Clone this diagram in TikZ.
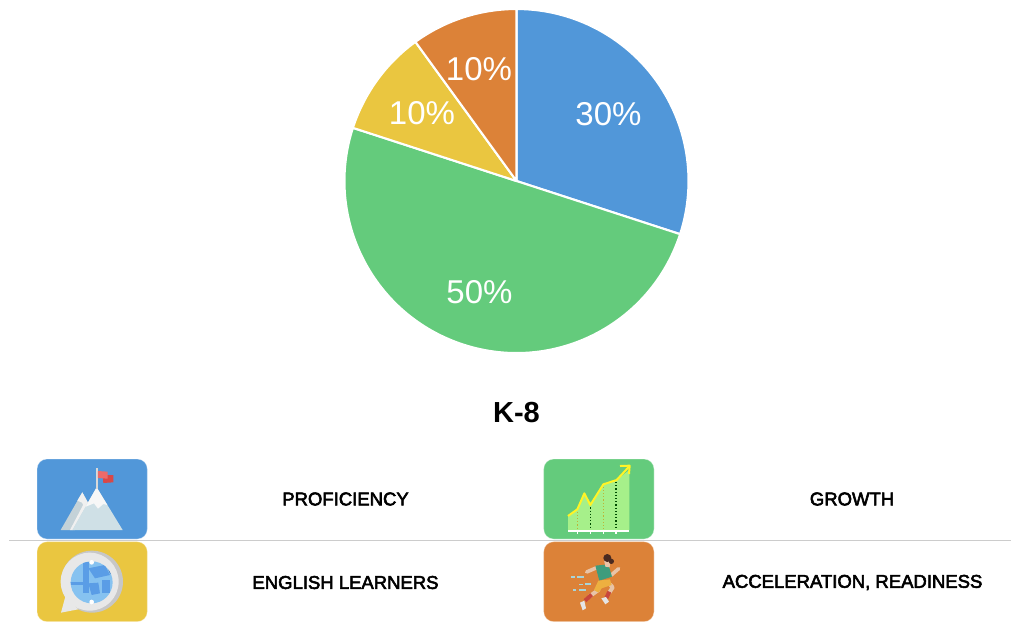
\documentclass[tikz,border=0pt]{standalone}
\usepackage{fontspec}
\setmainfont{Liberation Sans}
\newfontfamily\medfont[FakeBold=3]{Liberation Sans}
\definecolor{cblue}{HTML}{5197D9}
\definecolor{cgreen}{HTML}{64CB7C}
\definecolor{cyellow}{HTML}{EAC640}
\definecolor{corange}{HTML}{DC8238}
\definecolor{snow}{HTML}{CFE0E6}
\definecolor{lgreen}{HTML}{A6F08A}
\definecolor{gbase}{HTML}{86C2F0}
\definecolor{gdark}{HTML}{5A9DE6}
\definecolor{navyc}{HTML}{2F5FA8}
\definecolor{hairc}{HTML}{4A2A20}
\definecolor{skinc}{HTML}{E8C4A8}
\definecolor{shirtc}{HTML}{3E9C7C}
\definecolor{shortsc}{HTML}{EDB040}
\definecolor{sockc}{HTML}{C8463C}
\definecolor{speedc}{HTML}{A8D4D8}
\definecolor{flaga}{HTML}{EC6A6A}
\definecolor{flagb}{HTML}{D84848}
\definecolor{ridge}{HTML}{C4D2D8}
\tikzset{
  slice/.style={draw=white,line width=2.1pt,line join=round},
  pct/.style={text=white,font=\fontsize{33}{33}\selectfont,inner sep=0pt},
  lab/.style={text=black,font=\medfont\fontsize{18.5}{19}\selectfont,inner sep=0pt},
  iconbox/.style={draw=white,draw opacity=.35,line width=.8pt,rounded corners=10pt},
  zoomA/.style={shift={(20,450)},x=.3333pt,y=-.3333pt},
  zoomB/.style={shift={(530,450)},x=.3333pt,y=-.3333pt}
}
\begin{document}
\begin{tikzpicture}[x=1pt,y=-1pt]
\useasboundingbox (0,0) rectangle (1011,622);
\fill[white] (0,0) rectangle (1011,622);
% pie
\coordinate (c) at (516.5,181);
\def\R{172}
\filldraw[slice,fill=cblue] (516.5,9) arc[start angle=90,end angle=-18,radius=\R pt] -- (c) -- cycle;
\filldraw[slice,fill=cgreen] (c) -- ++(-18:\R pt) arc[start angle=-18,end angle=-198,radius=\R pt] -- cycle;
\filldraw[slice,fill=cyellow] (c) -- ++(162:\R pt) arc[start angle=162,end angle=126,radius=\R pt] -- cycle;
\filldraw[slice,fill=corange] (c) -- ++(126:\R pt) arc[start angle=126,end angle=90,radius=\R pt] -- cycle;
\node[pct] (p30) at (608.5,114) {30\%};
\node[pct] (p50) at (479.5,292) {50\%};
\node[pct] (p10a) at (422,113.5) {10\%};
\node[pct] (p10b) at (479,69) {10\%};
\node[inner sep=0pt,font=\bfseries\fontsize{29}{29}\selectfont] (title) at (516.5,412.5) {K-8};
% separator
\draw[black!20,line width=.9pt] (9,540) -- (1011,540);
% boxes
\filldraw[iconbox,fill=cblue] (37,459) rectangle (147.3,539);
\filldraw[iconbox,fill=cgreen] (543.7,459) rectangle (654,539);
\filldraw[iconbox,fill=cyellow] (37,541.7) rectangle (147.3,621.7);
\filldraw[iconbox,fill=corange] (543.7,541.7) rectangle (654,621.7);
% mountain icon
\begin{scope}[zoomA]
\fill[ridge] (122,240) -- (187,127) -- (205,160) -- (165,240) -- cycle;
\fill[white!94!black] (150,240) -- (192,160) -- (197,170) -- (158,240) -- cycle;
\fill[white!94!black] (172,152) -- (187,127) -- (205,160) -- (195,175) -- (186,158) -- cycle;
\fill[snow] (157,240) -- (230,112) -- (308,240) -- cycle;
\fill[white!97!black] (197,170) -- (230,112) -- (262,165) -- (250,162) -- (234,176) -- (222,160) -- (210,165) -- cycle;
\fill[white!85!black] (227,55) rectangle (233,118);
\fill[flagb] (248,75) -- (280,75) -- (280,97) -- (250,99) -- cycle;
\fill[flaga] (234,63) -- (263,65) -- (263,86) -- (234,84) -- cycle;
\end{scope}
% globe icon
\begin{scope}[zoomA]
\fill[black!22] (216,395) circle[radius=93];
\fill[white!91!black] (209,395) circle[radius=87];
\fill[white!91!black] (123,488) -- (136,440) -- (175,478) -- cycle;
\fill[gbase] (215,397) circle[radius=63];
\begin{scope}
\clip (215,397) circle[radius=63];
\fill[gdark] (150,395) rectangle (195,405);
\fill[gdark] (190,335) rectangle (206,430);
\fill[gdark] (205,355) -- (255,345) -- (270,375) -- (225,385) -- cycle;
\fill[gdark] (205,400) -- (235,398) -- (240,430) -- (215,435) -- cycle;
\fill[gdark] (245,390) rectangle (270,430);
\fill[navyc] (255,335) -- (285,345) -- (285,375) -- (270,370) -- cycle;
\end{scope}
\fill[white] (215,337) circle[radius=7];
\fill[white] (215,456) circle[radius=7];
\end{scope}
% growth icon
\begin{scope}[zoomB]
\fill[lgreen] (114,198) -- (142,178) -- (163,128) -- (181,165) -- (220,103) -- (260,90) -- (298,60) -- (298,240) -- (114,240) -- cycle;
\draw[yellow!85!white,line width=2pt,line join=round] (114,198) -- (142,178) -- (163,130) -- (181,165) -- (220,103) -- (260,90) -- (297,50);
\draw[yellow!85!white,line width=2pt,line join=round] (270,48) -- (299,47) -- (297,72);
\draw[yellow!70!black,line width=1.2pt,dotted] (143,185) -- (143,238);
\draw[green!30!black,line width=1.2pt,dotted] (181,172) -- (181,238);
\draw[yellow!70!black,line width=1.2pt,dotted] (220,110) -- (220,238);
\draw[green!30!black,line width=1.2pt,dotted] (258,96) -- (258,238);
\fill[white] (114,240) rectangle (298,245);
\foreach \x in {143,181,220,258} \fill[white] (\x-2,245) rectangle (\x+2,251);
\end{scope}
% runner icon
\begin{scope}[zoomB]
\fill[speedc] (123,379) rectangle (135,384);
\fill[speedc] (140,378) rectangle (162,384);
\fill[speedc] (148,401) rectangle (160,405);
\fill[speedc] (165,399) rectangle (184,405);
\fill[speedc] (128,417) rectangle (138,422);
\fill[speedc] (146,417) rectangle (168,422);
\draw[skinc,line width=3.6pt,line cap=round] (170,366) -- (200,353);
\draw[skinc,line width=3.6pt,line cap=round] (243,376) -- (266,356);
\fill[shirtc] (196,347) -- (235,343) -- (246,380) -- (208,392) -- cycle;
\fill[skinc] (222,330) -- (241,335) -- (239,352) -- (226,350) -- cycle;
\fill[hairc] (232,324) circle[radius=12];
\fill[hairc] (244,334) circle[radius=8];
\draw[skinc,line width=4pt,line cap=round] (205,420) -- (180,438);
\draw[skinc,line width=4pt,line join=round] (240,403) -- (248,412) -- (238,428);
\draw[sockc,line width=4pt] (185,434) -- (165,452);
\draw[sockc,line width=4pt] (238,425) -- (229,444);
\fill[shortsc] (205,392) -- (240,388) -- (245,405) -- (215,415) -- (205,428) -- (192,420) -- cycle;
\fill[white!90!black] (150,458) -- (163,452) -- (168,475) -- (158,481) -- cycle;
\fill[white!90!black] (214,445) -- (228,441) -- (237,455) -- (226,463) -- cycle;
\end{scope}
% labels
\node[lab] (l1) at (345.5,499) {PROFICIENCY};
\node[lab] (l2) at (852,499) {GROWTH};
\node[lab] (l3) at (345.5,582.5) {ENGLISH LEARNERS};
\node[lab] (l4) at (852.5,582.5) {ACCELERATION, READINESS};
\end{tikzpicture}
\end{document}
